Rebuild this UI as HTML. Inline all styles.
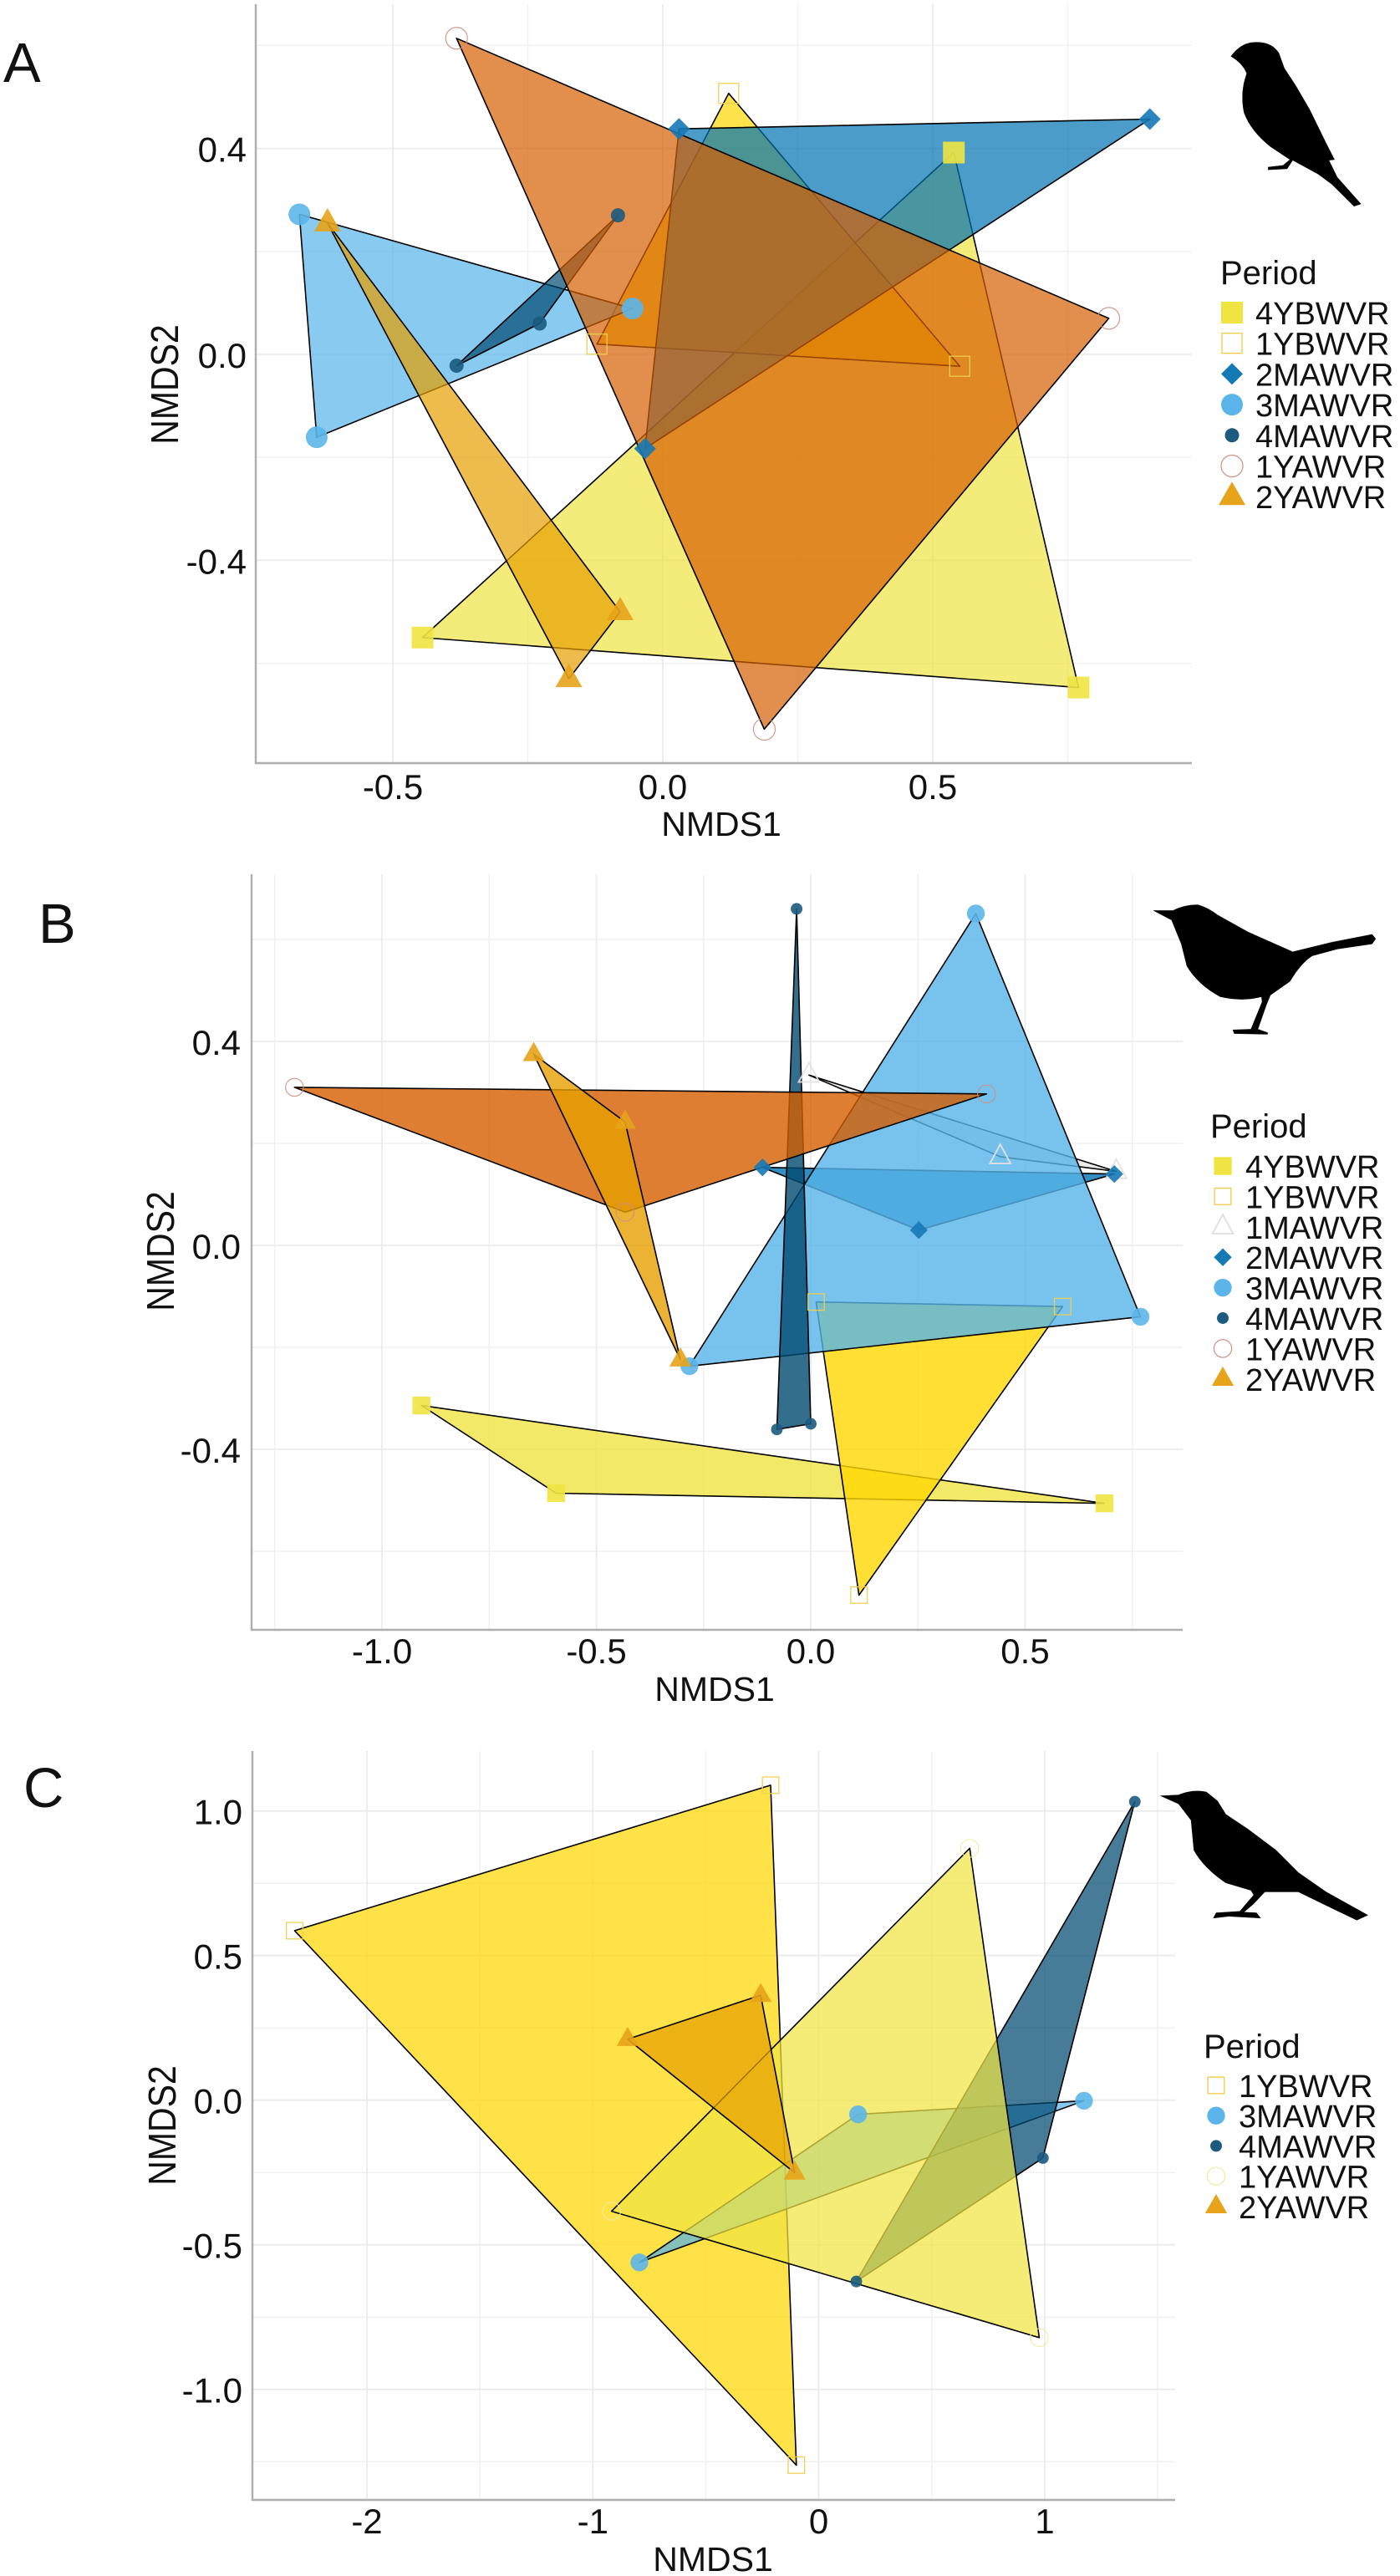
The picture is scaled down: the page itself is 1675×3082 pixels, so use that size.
<!DOCTYPE html>
<html lang="en">
<head>
<meta charset="utf-8">
<title>NMDS ordination panels</title>
<style>
html,body{margin:0;padding:0;background:#fff;width:1675px;height:3082px;overflow:hidden}
svg{display:block}
text{font-family:"Liberation Sans",Arial,sans-serif;fill:#111}
</style>
</head>
<body>
<svg id="figure" width="1675" height="3082" viewBox="0 0 1675 3082" xmlns="http://www.w3.org/2000/svg">
  <rect x="0" y="0" width="1675" height="3082" fill="#ffffff"/>

  <g id="panel-a"></g>
  <g id="panel-b"></g>
  <g id="panel-c"></g>

  <text x="4" y="98" font-size="67">A</text>
  <text x="46" y="1128" font-size="67">B</text>
  <text x="28" y="2162" font-size="67">C</text>

  <text x="863" y="1000" font-size="41" text-anchor="middle">NMDS1</text>
  <text transform="translate(213,460) rotate(-90) scale(1,1.13)" font-size="41" text-anchor="middle">NMDS2</text>
  <text x="855" y="2035" font-size="41" text-anchor="middle">NMDS1</text>
  <text transform="translate(208,1497) rotate(-90) scale(1,1.13)" font-size="41" text-anchor="middle">NMDS2</text>
  <text x="853" y="3076" font-size="41" text-anchor="middle">NMDS1</text>
  <text transform="translate(210,2543) rotate(-90) scale(1,1.13)" font-size="41" text-anchor="middle">NMDS2</text>

  <text x="1460" y="340" font-size="40">Period</text>
  <text x="1448" y="1361" font-size="40">Period</text>
  <text x="1440" y="2462" font-size="40">Period</text>

  <path fill="#000" stroke="#000" stroke-width="1" stroke-linejoin="round" transform="translate(1380,0) scale(0.3333,0.408)"
    d="M278,165 Q310,130 350,125 Q420,118 450,155 L470,200 L510,250 L560,320 L620,420 L650,468 L630,470 L660,520 L745,598 L720,605 L640,540 L590,510 L500,470 L480,495 L412,498 L412,490 L465,485 L490,468 L420,430 Q350,385 325,330 Q310,270 335,215 Q320,185 278,165 Z"/>
  <path fill="#000" stroke="#000" stroke-width="1" stroke-linejoin="round" transform="translate(1360,1060) scale(0.3333,0.408)"
    d="M60,72 L130,72 Q170,55 220,55 Q260,65 290,85 L400,135 L560,193 L700,165 L845,142 L858,155 L845,170 L720,185 L630,205 Q590,225 550,280 L480,320 L465,350 L435,420 L470,430 L470,435 L350,433 L345,422 L410,420 L450,340 L448,325 Q380,340 300,325 Q220,290 180,235 L160,170 L125,100 Z"/>
  <path fill="#000" stroke="#000" stroke-width="1" stroke-linejoin="round" transform="translate(1360,2110) scale(0.3333,0.357)"
    d="M85,108 L150,105 Q200,85 250,95 L290,125 L320,170 L400,220 L500,290 L580,365 L680,430 L830,508 L790,525 L690,480 L580,430 L460,430 L420,470 L385,498 L430,500 L445,518 L330,512 L275,518 L285,500 L370,495 L420,440 L410,425 L320,400 Q240,350 205,290 L195,190 L150,135 Z"/>

<script>
// ---------- Panel A data ----------
const namesA = ['4YBWVR','1YBWVR','2MAWVR','3MAWVR','4MAWVR','1YAWVR','2YAWVR'];
const a4YBWVR_x = [0.539,-0.445,0.770];
const a4YBWVR_y = [0.392,-0.550,-0.647];
const a1YBWVR_x = [0.122,-0.122,0.550];
const a1YBWVR_y = [0.507,0.020,-0.023];
const a2MAWVR_x = [0.030,0.902,-0.033];
const a2MAWVR_y = [0.438,0.457,-0.183];
const a3MAWVR_x = [-0.673,-0.056,-0.641];
const a3MAWVR_y = [0.272,0.089,-0.161];
const a4MAWVR_x = [-0.083,-0.228,-0.382];
const a4MAWVR_y = [0.270,0.060,-0.022];
const a1YAWVR_x = [-0.382,0.826,0.188];
const a1YAWVR_y = [0.614,0.070,-0.728];
const a2YAWVR_x = [-0.621,-0.079,-0.174];
const a2YAWVR_y = [0.255,-0.500,-0.630];
const xTicksA = [-0.5,0,0.5];
const xTickLabelsA = ['-0.5','0.0','0.5'];
const xMinorA = [-0.25,0.25,0.75];
const yTicksA = [-0.4,0,0.4];
const yTickLabelsA = ['-0.4','0.0','0.4'];
const yMinorA = [-0.6,-0.2,0.2,0.6];

// ---------- Panel B data ----------
const namesB = ['4YBWVR','1YBWVR','1MAWVR','2MAWVR','3MAWVR','4MAWVR','1YAWVR','2YAWVR'];
const b4YBWVR_x = [-0.908,-0.594,0.685];
const b4YBWVR_y = [-0.314,-0.486,-0.506];
const b1YBWVR_x = [0.0125,0.5875,0.1125];
const b1YBWVR_y = [-0.111,-0.120,-0.686];
const b1MAWVR_x = [-0.004,0.442,0.7125];
const b1MAWVR_y = [0.334,0.174,0.145];
const b2MAWVR_x = [-0.1125,0.708,0.252];
const b2MAWVR_y = [0.153,0.140,0.030];
const b3MAWVR_x = [0.385,0.769,-0.283];
const b3MAWVR_y = [0.651,-0.140,-0.237];
const b4MAWVR_x = [-0.033,-0.079,0.000];
const b4MAWVR_y = [0.660,-0.361,-0.350];
const b1YAWVR_x = [-1.204,0.410,-0.433];
const b1YAWVR_y = [0.310,0.297,0.065];
const b2YAWVR_x = [-0.646,-0.433,-0.304];
const b2YAWVR_y = [0.375,0.242,-0.224];
const xTicksB = [-1,-0.5,0,0.5];
const xTickLabelsB = ['-1.0','-0.5','0.0','0.5'];
const xMinorB = [-1.25,-0.75,-0.25,0.25,0.75];
const yTicksB = [-0.4,0,0.4];
const yTickLabelsB = ['-0.4','0.0','0.4'];
const yMinorB = [-0.6,-0.2,0.2,0.6];

// ---------- Panel C data ----------
const namesC = ['1YBWVR','3MAWVR','4MAWVR','1YAWVR','2YAWVR'];
const c1YBWVR_x = [-0.213,-2.320,-0.099];
const c1YBWVR_y = [1.089,0.586,-1.262];
const c3MAWVR_x = [0.174,1.174,-0.794];
const c3MAWVR_y = [-0.049,-0.002,-0.561];
const c4MAWVR_x = [1.399,0.992,0.166];
const c4MAWVR_y = [1.032,-0.200,-0.627];
const c1YAWVR_x = [0.668,-0.917,0.976];
const c1YAWVR_y = [0.871,-0.384,-0.821];
const c2YAWVR_x = [-0.846,-0.257,-0.107];
const c2YAWVR_y = [0.211,0.363,-0.251];
const xTicksC = [-2,-1,0,1];
const xTickLabelsC = ['-2','-1','0','1'];
const xMinorC = [-1.5,-0.5,0.5,1.5];
const yTicksC = [-1,-0.5,0,0.5,1];
const yTickLabelsC = ['-1.0','-0.5','0.0','0.5','1.0'];
const yMinorC = [-1.25,-0.75,-0.25,0.25,0.75];

// ---------- Drawing ----------
const SVGNS = 'http://www.w3.org/2000/svg';
function mk(tag, attrs, parent) {
  const el = document.createElementNS(SVGNS, tag);
  for (const k in attrs) el.setAttribute(k, attrs[k]);
  parent.appendChild(el);
  return el;
}

const fills = {'4YBWVR':'#F0E442','1YBWVR':'#FFD700','1MAWVR':'#E4E4E4','2MAWVR':'#0072B2','3MAWVR':'#56B4E9','4MAWVR':'#004A70','1YAWVR':'#D55E00','2YAWVR':'#E69F00'};
const markerColors = {'4YBWVR':'#F0E442','1YBWVR':'#F0CF50','1MAWVR':'#E2E2E2','2MAWVR':'#1579B6','3MAWVR':'#5CB5EA','4MAWVR':'#1C5A80','1YAWVR':'#CF8F80','2YAWVR':'#E7A31A'};

function drawMarker(parent, name, cx, cy, k, hollowColor) {
  const c = hollowColor || markerColors[name];
  if (name === '4YBWVR') {
    const s = 13 * k;
    return mk('rect', {x:cx-s, y:cy-s, width:2*s, height:2*s, fill:c}, parent);
  }
  if (name === '1YBWVR') {
    const s = 12 * k;
    return mk('rect', {x:cx-s, y:cy-s, width:2*s, height:2*s, fill:'none', stroke:c, 'stroke-width':1.4}, parent);
  }
  if (name === '1MAWVR') {
    const w = 15 * k, u = 18 * k, d = 10 * k;
    return mk('path', {d:'M'+cx+','+(cy-u)+'L'+(cx+w)+','+(cy+d)+'L'+(cx-w)+','+(cy+d)+'Z', fill:'none', stroke:c, 'stroke-width':2}, parent);
  }
  if (name === '2YAWVR') {
    const w = 16 * k, u = 18 * k, d = 10 * k;
    return mk('path', {d:'M'+cx+','+(cy-u)+'L'+(cx+w)+','+(cy+d)+'L'+(cx-w)+','+(cy+d)+'Z', fill:c}, parent);
  }
  if (name === '2MAWVR') {
    const w = 13 * k, h = 13 * k;
    return mk('path', {d:'M'+cx+','+(cy-h)+'L'+(cx+w)+','+cy+'L'+cx+','+(cy+h)+'L'+(cx-w)+','+cy+'Z', fill:c}, parent);
  }
  if (name === '3MAWVR') {
    return mk('circle', {cx:cx, cy:cy, r:13*k, fill:c}, parent);
  }
  if (name === '4MAWVR') {
    return mk('circle', {cx:cx, cy:cy, r:8.5*k, fill:c}, parent);
  }
  return mk('circle', {cx:cx, cy:cy, r:13*k, fill:'none', stroke:c, 'stroke-width':1.2}, parent);
}

const panels = [
  { id:'a', names:namesA,
    xs:[a4YBWVR_x,a1YBWVR_x,a2MAWVR_x,a3MAWVR_x,a4MAWVR_x,a1YAWVR_x,a2YAWVR_x],
    ys:[a4YBWVR_y,a1YBWVR_y,a2MAWVR_y,a3MAWVR_y,a4MAWVR_y,a1YAWVR_y,a2YAWVR_y],
    xTicks:xTicksA, xLabels:xTickLabelsA, xMinor:xMinorA, yTicks:yTicksA, yLabels:yTickLabelsA, yMinor:yMinorA,
    left:306, right:1426, top:5, bottom:913, x0:793, xu:646, y0:424, yu:616,
    xLabelBase:956, yLabelRight:295, alpha:0.7, k:1,
    legendKeyX:1474, legendTextX:1502, legendFirstBase:388, legendStep:36.7, fillOverride:{}, hollowOverride:{} },
  { id:'b', names:namesB,
    xs:[b4YBWVR_x,b1YBWVR_x,b1MAWVR_x,b2MAWVR_x,b3MAWVR_x,b4MAWVR_x,b1YAWVR_x,b2YAWVR_x],
    ys:[b4YBWVR_y,b1YBWVR_y,b1MAWVR_y,b2MAWVR_y,b3MAWVR_y,b4MAWVR_y,b1YAWVR_y,b2YAWVR_y],
    xTicks:xTicksB, xLabels:xTickLabelsB, xMinor:xMinorB, yTicks:yTicksB, yLabels:yTickLabelsB, yMinor:yMinorB,
    left:301, right:1415, top:1046, bottom:1950, x0:970, xu:513, y0:1490, yu:610,
    xLabelBase:1990, yLabelRight:288, alpha:0.8, k:0.82,
    legendKeyX:1463, legendTextX:1490, legendFirstBase:1409, legendStep:36.4, fillOverride:{}, hollowOverride:{} },
  { id:'c', names:namesC,
    xs:[c1YBWVR_x,c3MAWVR_x,c4MAWVR_x,c1YAWVR_x,c2YAWVR_x],
    ys:[c1YBWVR_y,c3MAWVR_y,c4MAWVR_y,c1YAWVR_y,c2YAWVR_y],
    xTicks:xTicksC, xLabels:xTickLabelsC, xMinor:xMinorC, yTicks:yTicksC, yLabels:yTickLabelsC, yMinor:yMinorC,
    left:302, right:1406, top:2095, bottom:2991, x0:979.6, xu:270.3, y0:2512.7, yu:346,
    xLabelBase:3031, yLabelRight:290, alpha:0.72, k:0.82,
    legendKeyX:1455, legendTextX:1482, legendFirstBase:2509, legendStep:36.2,
    fillOverride:{'1YAWVR':'#F0E442'}, hollowOverride:{'1YAWVR':'#F1ECA0'} }
];

panels.forEach(function (p) {
  const root = document.getElementById('panel-' + p.id);
  const sx = function (v) { return p.x0 + v * p.xu; };
  const sy = function (v) { return p.y0 - v * p.yu; };

  // grid
  p.xMinor.forEach(function (v) {
    const line = mk('line', {x1:sx(v), x2:sx(v), y1:p.top, y2:p.bottom, stroke:'#f1f1f1', 'stroke-width':1.5}, root);
    
    
  });
  p.yMinor.forEach(function (v) {
    const line = mk('line', {x1:p.left, x2:p.right, y1:sy(v), y2:sy(v), stroke:'#f1f1f1', 'stroke-width':1.5}, root);
    
    
  });
  p.xTicks.forEach(function (v, i) {
    const line = mk('line', {x1:sx(v), x2:sx(v), y1:p.top, y2:p.bottom, stroke:'#ebebeb', 'stroke-width':1.8}, root);
    
    
    const t = mk('text', {x:sx(v), y:p.xLabelBase, 'font-size':42, 'text-anchor':'middle'}, root);
    t.textContent = p.xLabels[i];
    
    
  });
  p.yTicks.forEach(function (v, i) {
    const line = mk('line', {x1:p.left, x2:p.right, y1:sy(v), y2:sy(v), stroke:'#ebebeb', 'stroke-width':1.8}, root);
    
    
    const t = mk('text', {x:p.yLabelRight, y:sy(v) + 16, 'font-size':42, 'text-anchor':'end'}, root);
    t.textContent = p.yLabels[i];
    
    
  });

  // axis lines
  const yAxis = mk('line', {x1:p.left, x2:p.left, y1:p.top, y2:p.bottom + 1, stroke:'#aeaeae', 'stroke-width':2.4}, root);
  
  
  const xAxis = mk('line', {x1:p.left - 1, x2:p.right, y1:p.bottom, y2:p.bottom, stroke:'#aeaeae', 'stroke-width':2.4}, root);
  
  

  // hull polygons, in legend order
  p.names.forEach(function (name, i) {
    const pts = p.xs[i].map(function (v, j) { return sx(v).toFixed(1) + ',' + sy(p.ys[i][j]).toFixed(1); }).join(' ');
    const hull = mk('polygon', {
      points: pts,
      fill: p.fillOverride[name] || fills[name],
      'fill-opacity': p.alpha,
      stroke: '#000',
      'stroke-width': 1.6,
      'stroke-linejoin': 'round'
    }, root);
    
    
  });

  // points on top
  p.names.forEach(function (name, i) {
    p.xs[i].forEach(function (v, j) {
      const pt = drawMarker(root, name, sx(v), sy(p.ys[i][j]), p.k, p.hollowOverride[name]);
      pt.setAttribute('opacity', '0.9');
      
      
    });
  });

  // legend
  p.names.forEach(function (name, i) {
    const base = p.legendFirstBase + i * p.legendStep;
    const key = drawMarker(root, name, p.legendKeyX, base - 14, p.k, p.hollowOverride[name]);
    
    
    const t = mk('text', {x:p.legendTextX, y:base, 'font-size':38}, root);
    t.textContent = name;
    
    
  });
});
</script>
</svg>
</body>
</html>
